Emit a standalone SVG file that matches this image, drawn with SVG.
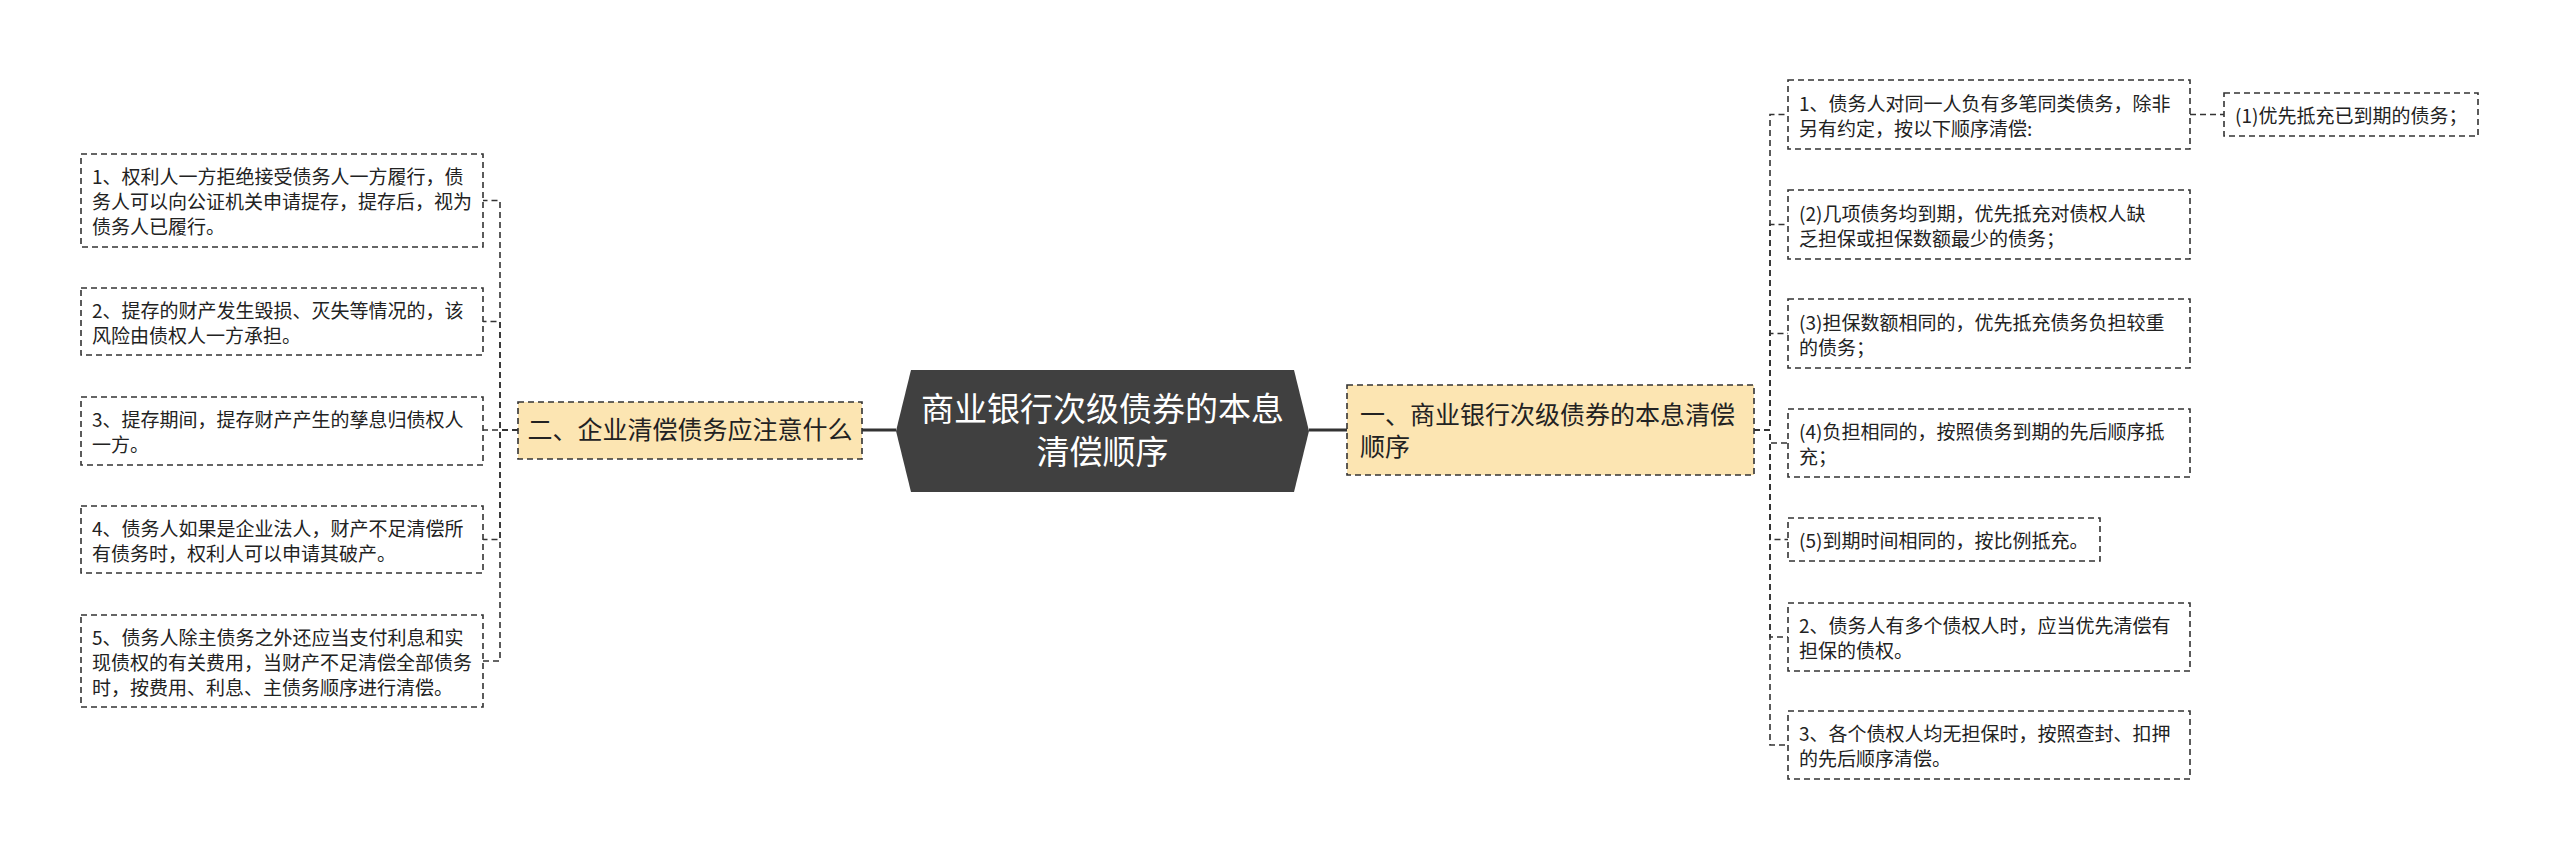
<svg xmlns="http://www.w3.org/2000/svg" width="2560" height="862" viewBox="0 0 2560 862">
<style>
text{font-family:"Microsoft YaHei","Noto Sans CJK SC",sans-serif;fill:#222;}
.leaf rect{fill:#fff;stroke:#333;stroke-width:1.6;stroke-dasharray:6 4;}
.leaf text{font-size:19px;}
.main rect{fill:#fce5b2;stroke:#333;stroke-width:1.6;stroke-dasharray:6 4;}
.main text{font-size:25px;}
.conn path{fill:none;stroke:#333;stroke-width:1.6;stroke-dasharray:6 4;}
.solid{fill:none;stroke:#333;stroke-width:3;}
.root polygon{fill:#404040;}
.root text{font-size:33px;fill:#fff;}
</style>
<rect width="2560" height="862" fill="#fff"/>
<g id="connectors">
<line class="solid" x1="862" y1="430" x2="896" y2="430"/>
<line class="solid" x1="1309" y1="430" x2="1347" y2="430"/>
<g class="conn">
<path d="M518,430 H500 V200.5 H483"/>
<path d="M518,430 H500 V321.5 H483"/>
<path d="M518,430 H483"/>
<path d="M518,430 H500 V539.5 H483"/>
<path d="M518,430 H500 V661 H483"/>
<path d="M1754,430 H1770 V114.5 H1788"/>
<path d="M1754,430 H1770 V224.5 H1788"/>
<path d="M1754,430 H1770 V333.5 H1788"/>
<path d="M1754,430 H1770 V443 H1788"/>
<path d="M1754,430 H1770 V539.5 H1788"/>
<path d="M1754,430 H1770 V637 H1788"/>
<path d="M1754,430 H1770 V745 H1788"/>
<path d="M2190,114.5 H2224"/>
</g>
</g>
<g id="root" class="root">
<polygon points="911,370 1294,370 1309,431 1294,492 911,492 896,431"/>
<text x="1102.5" y="421" text-anchor="middle">商业银行次级债券的本息</text>
<text x="1102.5" y="464" text-anchor="middle">清偿顺序</text>
</g>
<g id="left-main" class="main">
<rect x="518" y="402" width="344" height="57"/>
<text x="690" y="439" text-anchor="middle">二、企业清偿债务应注意什么</text>
</g>
<g id="right-main" class="main">
<rect x="1347" y="385" width="407" height="90"/>
<text x="1360" y="424">一、商业银行次级债券的本息清偿</text>
<text x="1360" y="456">顺序</text>
</g>
<g id="L1" class="leaf">
<rect x="81" y="154" width="402" height="93"/>
<text x="92" y="184">1、权利人一方拒绝接受债务人一方履行，债</text>
<text x="92" y="209">务人可以向公证机关申请提存，提存后，视为</text>
<text x="92" y="234">债务人已履行。</text>
</g>
<g id="L2" class="leaf">
<rect x="81" y="288" width="402" height="67"/>
<text x="92" y="318">2、提存的财产发生毁损、灭失等情况的，该</text>
<text x="92" y="343">风险由债权人一方承担。</text>
</g>
<g id="L3" class="leaf">
<rect x="81" y="397" width="402" height="68"/>
<text x="92" y="427">3、提存期间，提存财产产生的孳息归债权人</text>
<text x="92" y="452">一方。</text>
</g>
<g id="L4" class="leaf">
<rect x="81" y="506" width="402" height="67"/>
<text x="92" y="536">4、债务人如果是企业法人，财产不足清偿所</text>
<text x="92" y="561">有债务时，权利人可以申请其破产。</text>
</g>
<g id="L5" class="leaf">
<rect x="81" y="615" width="402" height="92"/>
<text x="92" y="645">5、债务人除主债务之外还应当支付利息和实</text>
<text x="92" y="670">现债权的有关费用，当财产不足清偿全部债务</text>
<text x="92" y="695">时，按费用、利息、主债务顺序进行清偿。</text>
</g>
<g id="R1" class="leaf">
<rect x="1788" y="80" width="402" height="69"/>
<text x="1799" y="111">1、债务人对同一人负有多笔同类债务，除非</text>
<text x="1799" y="136">另有约定，按以下顺序清偿:</text>
</g>
<g id="R1a" class="leaf">
<rect x="2224" y="93" width="254" height="43"/>
<text x="2235" y="123">(1)优先抵充已到期的债务；</text>
</g>
<g id="R2" class="leaf">
<rect x="1788" y="190" width="402" height="69"/>
<text x="1799" y="221">(2)几项债务均到期，优先抵充对债权人缺</text>
<text x="1799" y="246">乏担保或担保数额最少的债务；</text>
</g>
<g id="R3" class="leaf">
<rect x="1788" y="299" width="402" height="69"/>
<text x="1799" y="330">(3)担保数额相同的，优先抵充债务负担较重</text>
<text x="1799" y="355">的债务；</text>
</g>
<g id="R4" class="leaf">
<rect x="1788" y="409" width="402" height="68"/>
<text x="1799" y="439">(4)负担相同的，按照债务到期的先后顺序抵</text>
<text x="1799" y="464">充；</text>
</g>
<g id="R5" class="leaf">
<rect x="1788" y="518" width="312" height="43"/>
<text x="1799" y="548">(5)到期时间相同的，按比例抵充。</text>
</g>
<g id="R6" class="leaf">
<rect x="1788" y="603" width="402" height="68"/>
<text x="1799" y="633">2、债务人有多个债权人时，应当优先清偿有</text>
<text x="1799" y="658">担保的债权。</text>
</g>
<g id="R7" class="leaf">
<rect x="1788" y="711" width="402" height="68"/>
<text x="1799" y="741">3、各个债权人均无担保时，按照查封、扣押</text>
<text x="1799" y="766">的先后顺序清偿。</text>
</g>
</svg>
